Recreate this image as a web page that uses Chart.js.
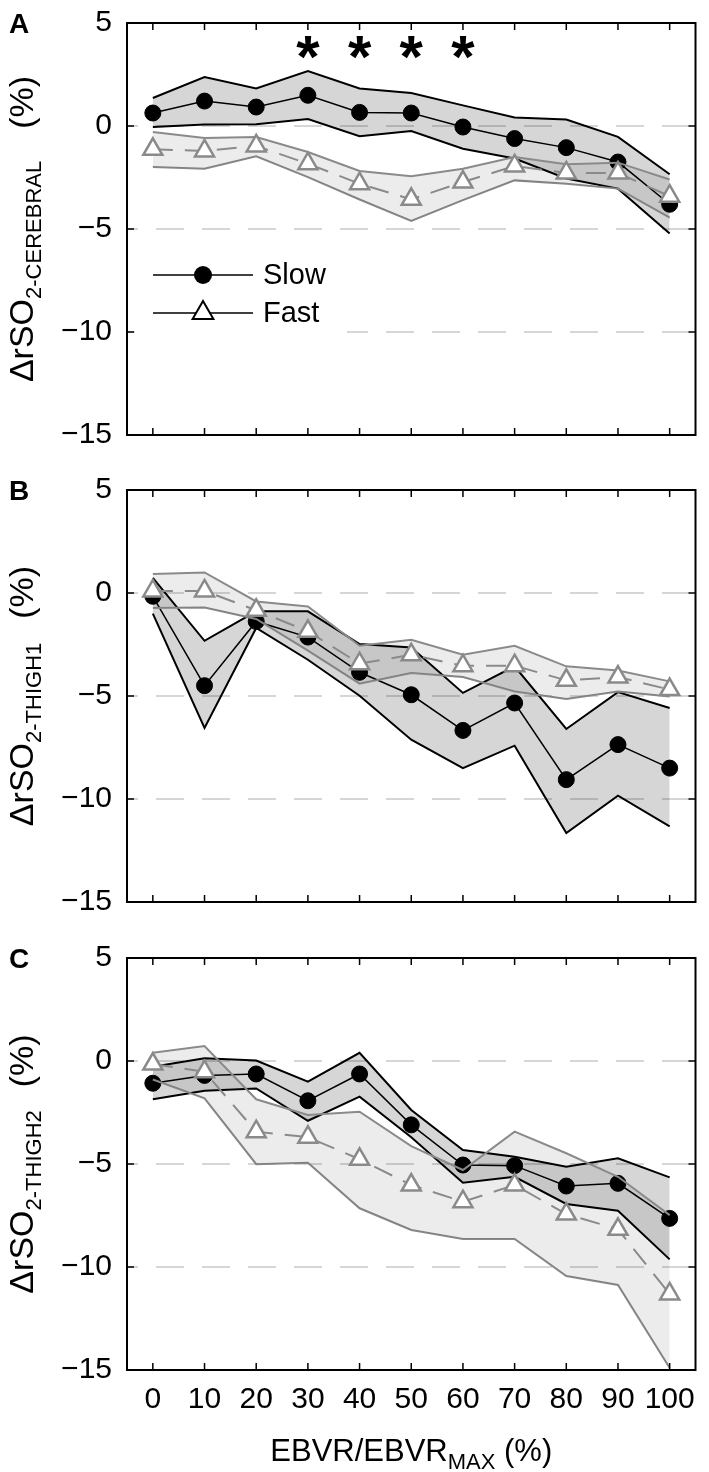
<!DOCTYPE html>
<html>
<head>
<meta charset="utf-8">
<script src="https://cdn.jsdelivr.net/npm/chart.js@4.4.1/dist/chart.umd.min.js"></script>
<style>
  body { margin: 0; background: #fff; width: 709px; height: 1472px; position: relative; overflow: hidden; }
  .panel { position: absolute; left: 0; width: 709px; }
</style>
</head>
<body>
<div class="panel" style="top:0;height:450px"><canvas id="chart-a"></canvas></div>
<div class="panel" style="top:470px;height:450px"><canvas id="chart-b"></canvas></div>
<div class="panel" style="top:935px;height:537px"><canvas id="chart-c"></canvas></div>
<script>
// x categories (EBVR / EBVR max, %)
const ebvr = [0, 10, 20, 30, 40, 50, 60, 70, 80, 90, 100];
const yTicks = [-15, -10, -5, 0, 5];
const dashedLevels = [0, -5, -10];

// Panel A - cerebral
const cerebralSlow      = [0.63, 1.21, 0.92, 1.49, 0.66, 0.63, -0.05, -0.61, -1.05, -1.75, -3.8];
const cerebralSlowUpper = [1.36, 2.38, 1.82, 2.67, 1.82, 1.6, 1.0, 0.41, 0.31, -0.53, -2.34];
const cerebralSlowLower = [-0.05, 0.07, 0.08, 0.34, -0.5, -0.24, -1.1, -1.58, -2.55, -3.04, -5.22];
const cerebralFast      = [-1.13, -1.21, -0.97, -1.83, -2.8, -3.56, -2.72, -1.94, -2.28, -2.28, -3.41];
const cerebralFastUpper = [-0.29, -0.58, -0.53, -1.26, -2.18, -2.44, -2.07, -1.5, -1.86, -1.78, -2.6];
const cerebralFastLower = [-1.99, -2.07, -1.47, -2.48, -3.57, -4.61, -3.6, -2.64, -2.8, -3.04, -4.45];
const cerebralStars = [30, 40, 50, 60];
const starLevel = 3.8;

// Panel B - thigh 1
const thigh1Slow      = [-0.16, -4.5, -1.38, -2.14, -3.85, -4.94, -6.67, -5.34, -9.06, -7.36, -8.5];
const thigh1SlowUpper = [0.73, -2.32, -0.89, -0.89, -2.48, -2.65, -4.85, -3.56, -6.6, -4.81, -5.58];
const thigh1SlowLower = [-1.0, -6.55, -1.7, -3.24, -4.99, -7.12, -8.5, -7.41, -11.65, -9.84, -11.33];
const thigh1Fast      = [0.1, 0.1, -0.84, -1.86, -3.43, -3.0, -3.53, -3.53, -4.24, -4.08, -4.69];
const thigh1FastUpper = [0.92, 1.0, -0.41, -0.65, -2.56, -2.27, -3.0, -2.56, -3.56, -3.76, -4.29];
const thigh1FastLower = [-0.73, -0.7, -1.26, -2.8, -4.4, -3.88, -4.08, -4.78, -5.15, -4.78, -5.02];

// Panel C - thigh 2
const thigh2Slow      = [-1.08, -0.7, -0.63, -1.93, -0.63, -3.1, -5.05, -5.08, -6.07, -5.94, -7.64];
const thigh2SlowUpper = [-0.28, 0.13, 0.02, -1.0, 0.4, -2.38, -4.32, -4.65, -5.13, -4.72, -5.65];
const thigh2SlowLower = [-1.86, -1.44, -1.33, -2.9, -1.73, -3.7, -5.91, -5.62, -6.94, -7.27, -9.63];
const thigh2Fast      = [-0.15, -0.52, -3.43, -3.7, -4.77, -6.02, -6.83, -6.02, -7.43, -8.17, -11.31];
const thigh2FastUpper = [0.4, 0.73, -1.86, -2.62, -2.46, -4.13, -5.29, -3.43, -4.48, -5.62, -7.48];
const thigh2FastLower = [-0.9, -1.81, -5.01, -4.94, -7.15, -8.2, -8.64, -8.64, -10.44, -10.87, -14.9];

const FONT = '"Liberation Sans", Arial, sans-serif';
const FAST_GRAY = '#8a8a8a';

const pts = arr => arr.map((v, i) => ({ x: ebvr[i], y: v }));
const minus = v => String(v).replace('-', '\u2212');

// frame with inward ticks, panel letter, axis titles, stars, legend
const decorPlugin = {
  id: 'decor',
  afterDatasetsDraw(chart, args, o) {
    if (!o.legend) return;
    const { ctx, chartArea: a } = chart;
    const x0 = a.left + 26, x1 = a.left + 126, xm = (x0 + x1) / 2;
    const rows = [{ y: a.top + 252, label: 'Slow' }, { y: a.top + 290, label: 'Fast' }];
    ctx.save();
    ctx.fillStyle = '#fff';
    ctx.fillRect(a.left + 8, a.top + 228, 212, 96);
    rows.forEach((r, i) => {
      ctx.strokeStyle = '#000';
      ctx.lineWidth = 1.5;
      ctx.beginPath(); ctx.moveTo(x0, r.y); ctx.lineTo(x1, r.y); ctx.stroke();
      ctx.beginPath();
      if (i === 0) {
        ctx.fillStyle = '#000';
        ctx.arc(xm, r.y, 9, 0, Math.PI * 2);
        ctx.fill();
      } else {
        const rad = 12;
        ctx.moveTo(xm, r.y - rad);
        ctx.lineTo(xm + rad * 0.866, r.y + rad * 0.5);
        ctx.lineTo(xm - rad * 0.866, r.y + rad * 0.5);
        ctx.closePath();
        ctx.fillStyle = '#fff';
        ctx.fill();
        ctx.lineWidth = 2;
        ctx.stroke();
      }
      ctx.fillStyle = '#000';
      ctx.font = '29px ' + FONT;
      ctx.textBaseline = 'middle';
      ctx.fillText(r.label, x1 + 10, r.y + 1);
    });
    ctx.restore();
  },
  afterDraw(chart, args, o) {
    const { ctx, chartArea: a, scales: { x, y } } = chart;
    ctx.save();
    // box
    ctx.strokeStyle = '#000';
    ctx.lineWidth = 2;
    ctx.strokeRect(a.left, a.top, a.right - a.left, a.bottom - a.top);
    ctx.lineWidth = 1.5;
    ctx.beginPath();
    ebvr.forEach(v => {
      const px = x.getPixelForValue(v);
      ctx.moveTo(px, a.top); ctx.lineTo(px, a.top + 7);
      ctx.moveTo(px, a.bottom); ctx.lineTo(px, a.bottom - 7);
    });
    yTicks.forEach(v => {
      const py = y.getPixelForValue(v);
      ctx.moveTo(a.left, py); ctx.lineTo(a.left + 7, py);
      ctx.moveTo(a.right, py); ctx.lineTo(a.right - 7, py);
    });
    ctx.stroke();

    // panel letter
    ctx.fillStyle = '#000';
    ctx.font = 'bold 28px ' + FONT;
    ctx.textBaseline = 'alphabetic';
    ctx.fillText(o.letter, 9, a.top + 10);

    // y title with subscript
    const sub = o.sub;
    ctx.font = '34px ' + FONT;
    const wMain = ctx.measureText('\u0394rSO').width;
    const wUnit = ctx.measureText('(%)').width;
    ctx.font = '22px ' + FONT;
    const wSub = ctx.measureText(sub).width;
    const total = wMain + wSub + o.gap + wUnit;
    ctx.save();
    ctx.translate(33, (a.top + a.bottom) / 2);
    ctx.rotate(-Math.PI / 2);
    let tx = -total / 2;
    ctx.font = '34px ' + FONT;
    ctx.fillText('\u0394rSO', tx, 0); tx += wMain;
    ctx.font = '22px ' + FONT;
    ctx.fillText(sub, tx, 8); tx += wSub + o.gap;
    ctx.font = '34px ' + FONT;
    ctx.fillText('(%)', tx, 0);
    ctx.restore();

    // significance stars
    if (o.stars) {
      ctx.font = 'bold 60px ' + FONT;
      ctx.textAlign = 'center';
      const m = ctx.measureText('*');
      const off = (m.actualBoundingBoxAscent - m.actualBoundingBoxDescent) / 2;
      o.stars.forEach(v => {
        ctx.fillText('*', x.getPixelForValue(v), y.getPixelForValue(starLevel) + off);
      });
      ctx.textAlign = 'left';
    }

    // x title
    if (o.xTitle) {
      const base = a.bottom + 91;
      ctx.font = '31px ' + FONT;
      const w1 = ctx.measureText('EBVR/EBVR').width;
      const w3 = ctx.measureText(' (%)').width;
      ctx.font = '22px ' + FONT;
      const w2 = ctx.measureText('MAX').width;
      let tx2 = (a.left + a.right) / 2 - (w1 + w2 + w3) / 2;
      ctx.font = '31px ' + FONT;
      ctx.fillText('EBVR/EBVR', tx2, base); tx2 += w1;
      ctx.font = '22px ' + FONT;
      ctx.fillText('MAX', tx2, base + 8); tx2 += w2;
      ctx.font = '31px ' + FONT;
      ctx.fillText(' (%)', tx2, base);
    }
    ctx.restore();
  }
};

function makePanel(id, s, deco, pad, showX) {
  const ctx = document.getElementById(id);
  const band = (data, color, fill, bg) => ({
    data: pts(data), borderColor: color, borderWidth: 2, pointRadius: 0,
    fill: fill, backgroundColor: bg, tension: 0
  });
  return new Chart(ctx, {
    type: 'line',
    data: {
      datasets: [
        {
          label: 'Fast', data: pts(s.fast), borderColor: FAST_GRAY, borderWidth: 2,
          borderDash: [20, 12], pointStyle: 'triangle', pointRadius: 11,
          pointBackgroundColor: '#fff', pointBorderColor: FAST_GRAY, pointBorderWidth: 2.5,
          fill: false, tension: 0
        },
        band(s.fastUpper, FAST_GRAY, '+1', 'rgba(0,0,0,0.075)'),
        band(s.fastLower, FAST_GRAY, false, 'transparent'),
        {
          label: 'Slow', data: pts(s.slow), borderColor: '#000', borderWidth: 1.5,
          pointStyle: 'circle', pointRadius: 8, pointBackgroundColor: '#000',
          pointBorderColor: '#000', pointBorderWidth: 1, fill: false, tension: 0
        },
        band(s.slowUpper, '#000', '+1', 'rgba(0,0,0,0.16)'),
        band(s.slowLower, '#000', false, 'transparent')
      ]
    },
    options: {
      responsive: true,
      maintainAspectRatio: false,
      animation: false,
      layout: { padding: pad },
      plugins: { legend: { display: false }, tooltip: { enabled: false }, decor: deco },
      scales: {
        x: {
          type: 'linear', min: -5, max: 105,
          afterBuildTicks: sc => { sc.ticks = ebvr.map(v => ({ value: v })); },
          afterFit: sc => {
            sc.height = showX ? 102 : 0;
            sc.paddingLeft = 0; sc.paddingRight = 0;
          },
          grid: { display: false, drawTicks: false },
          border: { display: false },
          ticks: {
            display: showX, autoSkip: false, maxRotation: 0, padding: 12,
            color: '#000', font: { family: FONT, size: 30 }
          }
        },
        y: {
          min: -15, max: 5,
          afterBuildTicks: sc => { sc.ticks = yTicks.map(v => ({ value: v })); },
          afterFit: sc => {
            sc.width = 127;
            sc.paddingTop = 0; sc.paddingBottom = 0;
          },
          grid: {
            drawTicks: false, lineWidth: 2,
            color: c => dashedLevels.includes(c.tick && c.tick.value) ? '#d6d6d6' : 'rgba(0,0,0,0)'
          },
          border: { display: false, dash: [28, 18], dashOffset: 17 },
          ticks: {
            padding: 15, color: '#000', font: { family: FONT, size: 30 },
            callback: v => minus(v)
          }
        }
      }
    },
    plugins: [decorPlugin]
  });
}

makePanel('chart-a', {
  slow: cerebralSlow, slowUpper: cerebralSlowUpper, slowLower: cerebralSlowLower,
  fast: cerebralFast, fastUpper: cerebralFastUpper, fastLower: cerebralFastLower
}, { letter: 'A', sub: '2-CEREBRAL', gap: 32, stars: cerebralStars, legend: true },
{ top: 23, bottom: 15, left: 0, right: 5 }, false);

makePanel('chart-b', {
  slow: thigh1Slow, slowUpper: thigh1SlowUpper, slowLower: thigh1SlowLower,
  fast: thigh1Fast, fastUpper: thigh1FastUpper, fastLower: thigh1FastLower
}, { letter: 'B', sub: '2-THIGH1', gap: 24 },
{ top: 20, bottom: 18, left: 0, right: 5 }, false);

makePanel('chart-c', {
  slow: thigh2Slow, slowUpper: thigh2SlowUpper, slowLower: thigh2SlowLower,
  fast: thigh2Fast, fastUpper: thigh2FastUpper, fastLower: thigh2FastLower
}, { letter: 'C', sub: '2-THIGH2', gap: 23, xTitle: true },
{ top: 23, bottom: 0, left: 0, right: 5 }, true);
</script>
</body>
</html>
